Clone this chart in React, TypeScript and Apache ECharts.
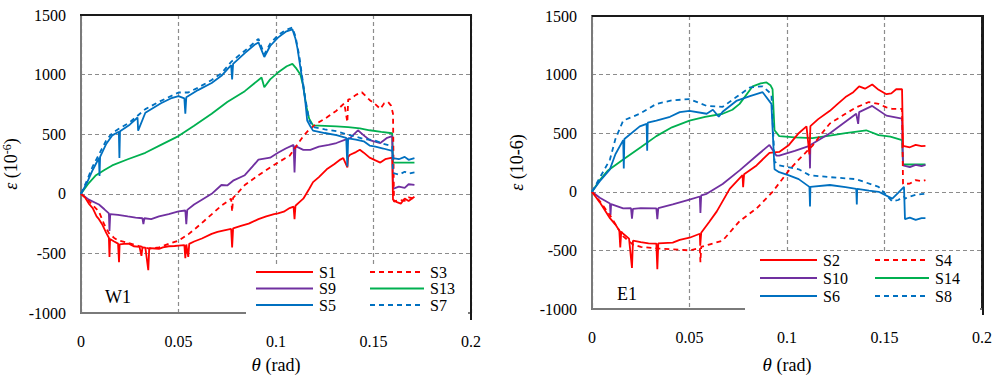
import React, { useEffect, useRef } from "react";
import * as echarts from "echarts";

type P = [number, number];

const w1S1: P[] = [[0,0],[0.002,-30],[0.004,-82],[0.006,-120],[0.008,-190],[0.0092,-213],[0.011,-260],[0.013,-330],[0.0143,-369],[0.0146,-530],[0.0149,-380],[0.017,-400],[0.019,-418],[0.0195,-574],[0.0198,-425],[0.022,-420],[0.0245,-418],[0.027,-440],[0.03,-445],[0.031,-520],[0.0315,-450],[0.033,-451],[0.0345,-640],[0.035,-455],[0.038,-459],[0.04,-462],[0.042,-450],[0.045,-440],[0.048,-438],[0.05,-434],[0.053,-430],[0.0535,-540],[0.054,-425],[0.055,-530],[0.0555,-420],[0.058,-400],[0.062,-375],[0.067,-336],[0.07,-320],[0.074,-305],[0.077,-295],[0.0775,-451],[0.078,-290],[0.082,-270],[0.086,-250],[0.091,-213],[0.095,-190],[0.099,-170],[0.101,-164],[0.104,-150],[0.107,-120],[0.109,-107],[0.1095,-213],[0.11,-100],[0.112,-70],[0.114,-41],[0.117,40],[0.119,98],[0.122,140],[0.126,205],[0.13,250],[0.133,287],[0.1345,300],[0.1366,221],[0.137,310],[0.138,328],[0.141,350],[0.143,369],[0.145,345],[0.148,303],[0.151,280],[0.1535,262],[0.156,290],[0.1596,303],[0.16,-49],[0.162,-70],[0.164,-82],[0.166,-40],[0.168,-60],[0.171,-25]];
const w1S3: P[] = [[0,0],[0.004,-60],[0.0092,-150],[0.012,-260],[0.0143,-330],[0.017,-370],[0.019,-390],[0.024,-410],[0.03,-440],[0.035,-460],[0.04,-450],[0.045,-420],[0.05,-393],[0.055,-340],[0.059,-287],[0.063,-230],[0.067,-172],[0.072,-100],[0.077,-41],[0.0775,-150],[0.078,-35],[0.084,74],[0.091,156],[0.097,221],[0.101,262],[0.107,320],[0.11,390],[0.114,484],[0.117,540],[0.121,590],[0.126,640],[0.131,697],[0.135,760],[0.1366,600],[0.137,790],[0.138,795],[0.141,830],[0.144,852],[0.146,820],[0.148,787],[0.151,750],[0.1535,713],[0.1555,760],[0.1575,770],[0.159,740],[0.16,672],[0.1605,-66],[0.163,-50],[0.166,-60],[0.168,-30],[0.171,-41]];
const w1S9: P[] = [[0,0],[0.004,-49],[0.0092,-90],[0.012,-130],[0.0143,-164],[0.0146,-312],[0.015,-170],[0.019,-176],[0.024,-190],[0.028,-200],[0.0315,-205],[0.032,-255],[0.0325,-205],[0.036,-213],[0.04,-190],[0.045,-170],[0.05,-148],[0.0535,-140],[0.054,-255],[0.0545,-135],[0.058,-90],[0.062,-50],[0.067,0],[0.072,74],[0.075,70],[0.078,110],[0.084,156],[0.088,230],[0.091,287],[0.097,303],[0.101,344],[0.105,380],[0.109,410],[0.1095,180],[0.11,400],[0.114,369],[0.1176,369],[0.122,395],[0.127,410],[0.131,426],[0.1366,460],[0.138,467],[0.142,533],[0.145,490],[0.148,451],[0.1535,426],[0.157,470],[0.1596,484],[0.16,41],[0.163,60],[0.166,50],[0.168,80],[0.171,74]];
const w1S13: P[] = [[0,0],[0.004,90],[0.0077,156],[0.012,200],[0.016,238],[0.024,290],[0.033,344],[0.041,410],[0.05,484],[0.058,570],[0.067,672],[0.075,770],[0.084,861],[0.0926,976],[0.094,894],[0.097,960],[0.101,1017],[0.1055,1070],[0.1084,1090],[0.1105,1050],[0.1125,1000],[0.114,902],[0.1156,730],[0.117,631],[0.119,574],[0.125,570],[0.131,566],[0.137,560],[0.143,549],[0.148,533],[0.154,520],[0.1596,508],[0.16,262],[0.171,262]];
const w1S5: P[] = [[0,0],[0.003,90],[0.006,200],[0.0092,300],[0.0095,150],[0.0098,310],[0.013,420],[0.016,490],[0.0194,520],[0.0197,300],[0.02,525],[0.025,580],[0.029,640],[0.0293,530],[0.033,680],[0.037,720],[0.041,760],[0.046,800],[0.05,820],[0.053,800],[0.0535,672],[0.054,810],[0.06,870],[0.067,930],[0.072,990],[0.077,1080],[0.0775,960],[0.078,1090],[0.084,1180],[0.089,1250],[0.091,1270],[0.094,1148],[0.097,1240],[0.101,1310],[0.105,1360],[0.1084,1380],[0.11,1300],[0.111,1222],[0.1136,943],[0.115,779],[0.116,615],[0.1176,566],[0.119,530],[0.125,510],[0.131,492],[0.136,470],[0.1366,230],[0.137,465],[0.141,455],[0.145,440],[0.148,405],[0.151,395],[0.155,380],[0.1596,360],[0.16,300],[0.163,290],[0.166,310],[0.168,285],[0.171,300]];
const w1S7: P[] = [[0,0],[0.003,110],[0.006,230],[0.0092,330],[0.013,450],[0.016,510],[0.0194,545],[0.025,600],[0.033,710],[0.041,780],[0.05,850],[0.055,850],[0.06,890],[0.067,955],[0.072,1010],[0.077,1107],[0.084,1200],[0.091,1300],[0.094,1170],[0.097,1260],[0.101,1330],[0.105,1375],[0.1084,1394],[0.11,1320],[0.112,1150],[0.1136,960],[0.115,800],[0.117,620],[0.119,560],[0.125,540],[0.131,525],[0.136,500],[0.141,480],[0.145,460],[0.15,451],[0.155,420],[0.1596,400],[0.16,175],[0.163,160],[0.166,185],[0.168,170],[0.171,180]];

const e1S2: P[] = [[0,0],[0.004,-90],[0.0092,-225],[0.012,-280],[0.014,-330],[0.0145,-475],[0.015,-340],[0.016,-358],[0.019,-400],[0.0205,-650],[0.021,-417],[0.025,-430],[0.029,-440],[0.033,-442],[0.0335,-660],[0.034,-440],[0.0414,-433],[0.045,-410],[0.05,-392],[0.0553,-358],[0.0555,-460],[0.056,-350],[0.06,-260],[0.064,-167],[0.0706,25],[0.0772,142],[0.0775,40],[0.078,150],[0.0844,225],[0.091,333],[0.096,340],[0.101,400],[0.106,500],[0.11,558],[0.1115,320],[0.112,560],[0.116,620],[0.122,691],[0.126,750],[0.13,808],[0.134,850],[0.137,900],[0.14,880],[0.1437,916],[0.147,870],[0.151,833],[0.1535,840],[0.156,875],[0.159,875],[0.1595,392],[0.163,380],[0.166,400],[0.169,390],[0.171,392]];
const e1S4: P[] = [[0,0],[0.004,-80],[0.0092,-200],[0.014,-330],[0.016,-380],[0.021,-450],[0.025,-470],[0.033,-483],[0.04,-490],[0.045,-495],[0.05,-500],[0.0553,-480],[0.0556,-600],[0.056,-470],[0.06,-450],[0.067,-417],[0.0757,-250],[0.0844,-142],[0.0926,0],[0.101,183],[0.106,275],[0.113,392],[0.117,480],[0.122,583],[0.13,666],[0.1355,720],[0.142,766],[0.147,750],[0.151,720],[0.154,708],[0.159,708],[0.1595,67],[0.163,70],[0.166,100],[0.169,90],[0.171,100]];
const e1S10: P[] = [[0,0],[0.004,-50],[0.0092,-100],[0.0095,-200],[0.0098,-105],[0.016,-142],[0.02,-140],[0.0205,-230],[0.021,-145],[0.025,-140],[0.033,-142],[0.0335,-233],[0.034,-140],[0.0414,-108],[0.05,-67],[0.0553,-40],[0.0556,-180],[0.056,-30],[0.0588,-17],[0.067,67],[0.0757,183],[0.0844,308],[0.091,400],[0.0946,308],[0.096,308],[0.104,350],[0.1115,392],[0.1118,200],[0.112,400],[0.122,500],[0.1355,666],[0.1365,580],[0.137,680],[0.1437,733],[0.151,650],[0.159,625],[0.1595,225],[0.163,210],[0.166,230],[0.169,220],[0.171,230]];
const e1S14: P[] = [[0,0],[0.004,100],[0.008,180],[0.016,275],[0.025,380],[0.033,475],[0.041,550],[0.05,608],[0.058,640],[0.067,666],[0.072,700],[0.0757,750],[0.0824,900],[0.0865,925],[0.0895,933],[0.0915,910],[0.0926,875],[0.0936,525],[0.096,475],[0.104,465],[0.113,458],[0.122,480],[0.13,500],[0.1406,525],[0.147,483],[0.153,470],[0.159,441],[0.1595,233],[0.171,233]];
const e1S6: P[] = [[0,0],[0.004,90],[0.0092,192],[0.012,320],[0.016,441],[0.0163,200],[0.0166,450],[0.0245,558],[0.028,580],[0.0283,350],[0.0286,590],[0.033,608],[0.04,640],[0.045,680],[0.05,691],[0.0588,666],[0.062,700],[0.065,640],[0.067,683],[0.074,775],[0.081,816],[0.0875,850],[0.092,750],[0.0936,192],[0.096,167],[0.101,140],[0.106,108],[0.1115,42],[0.1118,-125],[0.112,42],[0.122,58],[0.13,40],[0.1355,25],[0.1358,-108],[0.136,25],[0.142,10],[0.147,0],[0.154,-58],[0.157,-10],[0.16,42],[0.1605,-233],[0.163,-220],[0.166,-240],[0.169,-225],[0.171,-225]];
const e1S8: P[] = [[0,0],[0.004,120],[0.0092,275],[0.012,450],[0.016,608],[0.0245,666],[0.033,750],[0.041,780],[0.05,791],[0.0588,733],[0.067,725],[0.074,808],[0.081,891],[0.0875,900],[0.092,833],[0.0936,260],[0.096,225],[0.106,192],[0.1115,142],[0.122,125],[0.1355,108],[0.147,42],[0.154,-83],[0.157,-70],[0.16,-40],[0.1605,-58],[0.163,-40],[0.166,-25],[0.169,-20],[0.171,-17]];

const xTicks = { min: 0, max: 0.2, interval: 0.05 };
const yTicks = { min: -1000, max: 1500, interval: 500 };
const panelLabels = ["W1", "E1"];

const RED = "#ff0000";
const PURPLE = "#7030a0";
const BLUE = "#0070c0";
const GREEN = "#00b050";
const FONT = "Liberation Serif";
const DASH = [5, 4];

function App() {
  const ref = useRef<HTMLDivElement>(null);
  useEffect(() => {
    if (!ref.current) return;
    const chart = echarts.init(ref.current, undefined, { renderer: "svg" });

    const grids = [
      { left: 80, top: 15, width: 391, height: 305 },
      { left: 592, top: 16, width: 391, height: 299 },
    ];

    const xName = "{i|θ} (rad)";
    const yNames = ["{e|ε} (10{s|-6})", "{e|ε} (10-6)"];

    const xAxes = grids.map((_, i) => ({
      type: "value",
      gridIndex: i,
      min: xTicks.min,
      max: xTicks.max,
      interval: xTicks.interval,
      name: xName,
      nameLocation: "middle",
      nameGap: i === 0 ? 42 : 46,
      nameTextStyle: {
        fontFamily: FONT,
        fontSize: 18,
        color: "#000",
        rich: { i: { fontFamily: FONT, fontSize: 19, fontStyle: "italic", color: "#000" } },
      },
      axisLine: { show: true, onZero: false, lineStyle: { color: "#7a7a7a", width: 2 } },
      axisTick: { show: false },
      axisLabel: {
        fontFamily: FONT,
        fontSize: 16,
        color: "#000",
        margin: 20,
        formatter: (v: number) => (v === 0 ? "0" : String(+v.toFixed(2))),
      },
      splitLine: { show: true, lineStyle: { color: "#8c8c8c", type: [4, 3], width: 1.2 } },
    }));

    const yAxes = grids.map((_, i) => ({
      type: "value",
      gridIndex: i,
      min: yTicks.min,
      max: yTicks.max,
      interval: yTicks.interval,
      name: yNames[i],
      nameLocation: "middle",
      nameGap: i === 0 ? 60 : 66,
      nameRotate: 90,
      nameTextStyle: {
        fontFamily: FONT,
        fontSize: 18,
        color: "#000",
        rich: {
          e: { fontFamily: FONT, fontSize: 18, fontStyle: "italic", color: "#000" },
          s: { fontFamily: FONT, fontSize: 12, color: "#000", verticalAlign: "top", padding: [0, 0, 8, 0] },
        },
      },
      axisLine: { show: true, onZero: false, lineStyle: { color: "#7a7a7a", width: 2 } },
      axisTick: { show: false },
      axisLabel: { fontFamily: FONT, fontSize: 16, color: "#000", margin: 15, formatter: (v: number) => String(v) },
      splitLine: { show: true, lineStyle: { color: "#8c8c8c", type: [4, 3], width: 1.2 } },
    }));

    const mk = (name: string, data: P[], color: string, dashed: boolean, gi: number) => ({
      name,
      type: "line",
      xAxisIndex: gi,
      yAxisIndex: gi,
      data,
      symbol: "none",
      showSymbol: false,
      color,
      lineStyle: { color, width: 1.8, type: dashed ? DASH : "solid" },
      z: 2,
    });

    const series = [
      mk("S13", w1S13, GREEN, false, 0),
      mk("S9", w1S9, PURPLE, false, 0),
      mk("S3", w1S3, RED, true, 0),
      mk("S1", w1S1, RED, false, 0),
      mk("S7", w1S7, BLUE, true, 0),
      mk("S5", w1S5, BLUE, false, 0),
      mk("S14", e1S14, GREEN, false, 1),
      mk("S10", e1S10, PURPLE, false, 1),
      mk("S4", e1S4, RED, true, 1),
      mk("S2", e1S2, RED, false, 1),
      mk("S8", e1S8, BLUE, true, 1),
      mk("S6", e1S6, BLUE, false, 1),
    ];

    const legendBase = (data: string[], left: number, top: number, gap: number, itemWidth: number) => ({
      data,
      orient: "vertical",
      left,
      top,
      padding: 0,
      itemWidth,
      itemHeight: 14,
      itemGap: gap,
      selectedMode: false,
      itemStyle: { opacity: 0 },
      textStyle: { fontFamily: FONT, fontSize: 16, color: "#000", padding: [0, 0, 0, 1] },
      z: 5,
    });

    const frame = (g: { left: number; top: number; width: number; height: number }) => ({
      type: "polyline",
      z: 6,
      silent: true,
      shape: {
        points: [
          [g.left, g.top],
          [g.left + g.width, g.top],
          [g.left + g.width, g.top + g.height],
        ],
      },
      style: { stroke: "#1a1a1a", lineWidth: 2, fill: "none" },
    });

    chart.setOption({
      animation: false,
      backgroundColor: "#fff",
      grid: grids.map((g) => ({ ...g, show: true, borderColor: "#1a1a1a", borderWidth: 2, backgroundColor: "transparent" })),
      xAxis: xAxes,
      yAxis: yAxes,
      legend: [
        legendBase(["S1", "S9", "S5"], 255, 264, 0.5, 57),
        legendBase(["S3", "S13", "S7"], 369, 264, 0.5, 54),
        legendBase(["S2", "S10", "S6"], 759, 252, 2, 57),
        legendBase(["S4", "S14", "S8"], 874, 252, 2, 54),
      ],
      graphic: [
        { type: "rect", z: 4, shape: { x: 246, y: 264, width: 222, height: 54 }, style: { fill: "#fff" } },
        { type: "rect", z: 4, shape: { x: 745, y: 251, width: 235, height: 62 }, style: { fill: "#fff" } },
        frame(grids[0]),
        frame(grids[1]),
        { type: "text", z: 5, x: 105, y: 288, style: { text: panelLabels[0], fontFamily: FONT, fontSize: 18, fill: "#000" } },
        { type: "text", z: 5, x: 617, y: 285, style: { text: panelLabels[1], fontFamily: FONT, fontSize: 18, fill: "#000" } },
      ],
      series,
    });

    return () => chart.dispose();
  }, []);

  return (
    <div
      ref={ref}
      style={{ position: "fixed", left: 0, top: 0, width: 995, height: 379, background: "#fff" }}
    />
  );
}

export default App;
